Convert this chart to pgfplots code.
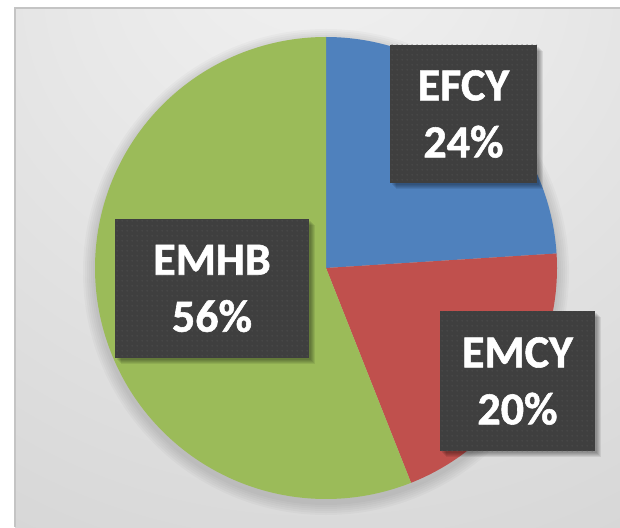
\documentclass[border=0pt]{standalone}
\usepackage{pgfplots}
\pgfplotsset{compat=1.18}
\usepackage{pgfplotstable}
\usepackage{fontspec}
\setmainfont{Carlito}
\newfontfamily\lblfont{Carlito}[BoldFeatures={FakeBold=1.2}]
\usetikzlibrary{patterns.meta}

\definecolor{pieblue}{HTML}{4F81BD}
\definecolor{piered}{HTML}{C0504D}
\definecolor{piegreen}{HTML}{9BBB59}
\definecolor{boxfill}{HTML}{3F3F3F}
\definecolor{boxdot}{HTML}{565656}
\definecolor{framecol}{HTML}{C4C4C4}

\pgfplotstableread{
label value
EFCY 24
EMCY 20
EMHB 56
}\piedata

\pgfdeclareradialshading{bgshade}{\pgfpoint{0bp}{35bp}}{color(0bp)=(white!95!black); color(20bp)=(white!91!black); color(60bp)=(white!82!black); color(100bp)=(white!77!black)}

\tikzdeclarepattern{name=boxdots, type=uncolored, bounding box={(0,0) and (5bp,5bp)}, tile size={(5bp,5bp)}, code={\fill (2.5bp,2.5bp) circle (0.75bp);}}

\newcommand\shadowrect[5]{%
  \fill[black, opacity=0.08] (axis cs:#1+#5,#2-#5) rectangle (axis cs:#3+#5,#4-#5);}
\newcommand\labelbox[4]{%
  \shadowrect{#1}{#2}{#3}{#4}{2}%
  \shadowrect{#1}{#2}{#3}{#4}{3}%
  \shadowrect{#1}{#2}{#3}{#4}{4}%
  \shadowrect{#1}{#2}{#3}{#4}{5}%
  \shadowrect{#1}{#2}{#3}{#4}{6}%
  \fill[boxfill] (axis cs:#1,#2) rectangle (axis cs:#3,#4);
  \fill[pattern={boxdots}, pattern color=boxdot] (axis cs:#1,#2) rectangle (axis cs:#3,#4);}

\begin{document}
\begin{tikzpicture}
\pgfplotstablegetelem{0}{value}\of\piedata \let\vA\pgfplotsretval
\pgfplotstablegetelem{1}{value}\of\piedata \let\vB\pgfplotsretval
\pgfplotstablegetelem{2}{value}\of\piedata \let\vC\pgfplotsretval
\pgfmathsetmacro\aA{90}
\pgfmathsetmacro\aB{90-3.6*\vA}
\pgfmathsetmacro\aC{\aB-3.6*\vB}
\pgfmathsetmacro\aD{\aC-3.6*\vC}
\begin{axis}[width=620bp,height=527bp,scale only axis,
  xmin=0,xmax=620,ymin=0,ymax=527,hide axis,clip=false]
% background
\shade[shading=bgshade] (axis cs:15,0) rectangle (axis cs:620,519);
\draw[framecol, line width=1.2bp] (axis cs:15,0) -- (axis cs:15,519) -- (axis cs:620,519);
% pie shadow halo
\pgfplotsinvokeforeach{2,4,6,8,10,12}{
  \fill[black, opacity=0.025] (axis cs:326,255) circle[radius=231bp+#1bp];
}
% slices
\addplot[fill=pieblue, draw=none, domain=\aB:\aA, samples=120, variable=\t]
  ({326+231*cos(\t)},{259+231*sin(\t)}) -- (axis cs:326,259) -- cycle;
\addplot[fill=piered, draw=none, domain=\aC:\aB, samples=120, variable=\t]
  ({326+231*cos(\t)},{259+231*sin(\t)}) -- (axis cs:326,259) -- cycle;
\addplot[fill=piegreen, draw=none, domain=\aD:\aC, samples=240, variable=\t]
  ({326+231*cos(\t)},{259+231*sin(\t)}) -- (axis cs:326,259) -- cycle;
% label boxes
\labelbox{390}{344}{537}{482}
\labelbox{440}{76}{595}{216}
\labelbox{115}{169}{309}{308}
\node[text=white, align=center, font=\fontsize{46bp}{57bp}\selectfont\lblfont\bfseries] at (axis cs:463.5,413) {EFCY\\24\%};
\node[text=white, align=center, font=\fontsize{46bp}{57bp}\selectfont\lblfont\bfseries] at (axis cs:517.5,146) {EMCY\\20\%};
\node[text=white, align=center, font=\fontsize{46bp}{57bp}\selectfont\lblfont\bfseries] at (axis cs:212,238.5) {EMHB\\56\%};
\end{axis}
\pgfresetboundingbox
\path[use as bounding box] (current axis.south west) rectangle (current axis.north east);
\end{tikzpicture}
\end{document}
